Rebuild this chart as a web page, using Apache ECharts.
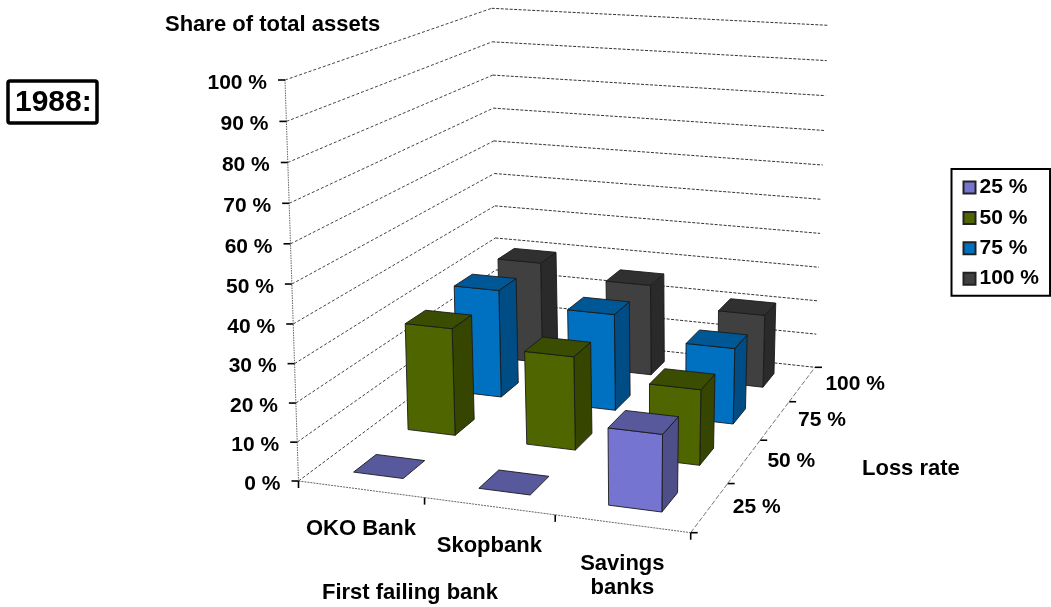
<!DOCTYPE html>
<html><head><meta charset="utf-8">
<style>html,body{margin:0;padding:0;background:#fff}#c{width:1051px;height:607px}</style>
<script src="https://cdn.jsdelivr.net/npm/echarts@6/dist/echarts.min.js"></script>
</head><body><div id="c"></div>
<script>
// ---- data ----
const banks = ['OKO Bank', 'Skopbank', 'Savings\nbanks'];
const rates = ['25 %', '50 %', '75 %', '100 %'];
const valueTicks = [0, 10, 20, 30, 40, 50, 60, 70, 80, 90, 100];
const share25 = [0, 0, 19.5];
const share50 = [29, 25, 20];
const share75 = [30.5, 27, 21];
const share100 = [30, 26.5, 21];

// ---- styles ----
const FAMILY = '"Liberation Sans", Arial, sans-serif';
const FONT = 'bold 22px ' + FAMILY;
const FONT_PCT = 'bold 21px ' + FAMILY;
const palette = [
  { front: '#7575d1', top: '#58589c', side: '#4e4e88' },
  { front: '#4f6600', top: '#3b4d00', side: '#364600' },
  { front: '#0070c0', top: '#005796', side: '#004c84' },
  { front: '#404040', top: '#303030', side: '#2a2a2a' }
];
// perspective frame: floor and 100 % plane corners (front-left, front-right, back-right, back-left)
const floorQuad = [[298.5, 481], [690.7, 532.7], [815, 367.3], [497, 333]];
const roofQuad = [[285, 80], [699.6, 115], [828, 25.3], [491.7, 8.3]];
const BAR_U = 0.40, BAR_V = 0.40;

function homography(q) {
  const [[x0, y0], [x1, y1], [x2, y2], [x3, y3]] = q;
  const dx1 = x1 - x2, dx2 = x3 - x2, sx = x0 - x1 + x2 - x3;
  const dy1 = y1 - y2, dy2 = y3 - y2, sy = y0 - y1 + y2 - y3;
  const den = dx1 * dy2 - dx2 * dy1;
  const g = (sx * dy2 - dx2 * sy) / den, h = (dx1 * sy - sx * dy1) / den;
  const a = x1 - x0 + g * x1, b = x3 - x0 + h * x3, d = y1 - y0 + g * y1, e = y3 - y0 + h * y3;
  return (u, v) => {
    const w = g * u + h * v + 1;
    return [(a * u + b * v + x0) / w, (d * u + e * v + y0) / w];
  };
}
const floorH = homography(floorQuad), roofH = homography(roofQuad);
// u: across banks 0..1, v: across rates 0..1, t: height 0..1
function project(u, v, t) {
  const k = 1.036, s = t / (t + k * (1 - t));
  const p = floorH(u, v), q = roofH(u, v);
  return [p[0] + (q[0] - p[0]) * s, p[1] + (q[1] - p[1]) * s];
}
const rateFrac = r => echarts.number.linearMap(r, [0, rates.length], [0, 1]);

function gridFrac(params, api, bandPos, value) {
  const g = params.coordSys, c = api.coord([bandPos, value]);
  return { u: (c[0] - g.x) / g.width, t: 1 - (c[1] - g.y) / g.height, bw: api.size([1, 0])[0] / g.width };
}
const poly = (pts, fill) => ({
  type: 'polygon', shape: { points: pts },
  style: { fill, stroke: '#1a1a1a', lineWidth: 0.9, lineJoin: 'round' }, silent: true
});
const seg = (a, b, dash, color, w) => ({
  type: 'line', shape: { x1: a[0], y1: a[1], x2: b[0], y2: b[1] },
  style: { stroke: color || '#000', lineWidth: w || 1, lineDash: dash || null }, silent: true
});
const txt = (x, y, text, align, vAlign, font) => ({
  type: 'text', silent: true,
  style: { x, y, text, font: font || FONT, fill: '#000', textAlign: align, textVerticalAlign: vAlign, lineHeight: 24 }
});

function renderBar(colors) {
  return (params, api) => {
    const bank = api.value(0), rate = api.value(1), val = api.value(2);
    const f = gridFrac(params, api, bank, val);
    const u0 = f.u - f.bw * BAR_U / 2, u1 = f.u + f.bw * BAR_U / 2;
    const vc = rateFrac(rate + 0.5), hv = rateFrac(BAR_V) / 2;
    const v0 = vc - hv, v1 = vc + hv, t = f.t;
    const P = (u, v, h) => project(u, v, h);
    const children = [];
    if (val > 0) {
      children.push(poly([P(u1, v0, 0), P(u1, v1, 0), P(u1, v1, t), P(u1, v0, t)], colors.side));
      children.push(poly([P(u0, v0, 0), P(u1, v0, 0), P(u1, v0, t), P(u0, v0, t)], colors.front));
    }
    children.push(poly([P(u0, v0, t), P(u1, v0, t), P(u1, v1, t), P(u0, v1, t)], colors.top));
    return { type: 'group', children };
  };
}
function renderValueTick(params, api) {
  const z = api.value(1);
  const t = gridFrac(params, api, 0, z).t;
  const a = project(0, 0, t), b = project(0, 1, t), c = project(1, 1, t);
  const children = [
    seg(a, b, [3, 2], '#444', 1),
    seg(b, c, [3, 1.5], '#333', 1),
    seg([a[0] - 7, a[1]], a, null, '#000', 1.6),
    txt(a[0] - 18, a[1] + 3, z + ' %', 'right', 'middle', FONT_PCT)
  ];
  if (z < 100) children.push(seg(a, project(0, 0, gridFrac(params, api, 0, z + 10).t), [1.5, 1], '#555', 0.9));
  return { type: 'group', children };
}
function renderBankAxis(params, api) {
  const i = api.value(0);
  const f = gridFrac(params, api, i, 0);
  const c = project(f.u, 0, 0);
  const uR = f.u + f.bw / 2, uL = f.u - f.bw / 2;
  const pR = project(uR, 0, 0), pL = project(uL, 0, 0);
  const children = [
    seg(pL, pR, [2, 1], '#555', 0.9),
    seg(pR, [pR[0], pR[1] + 7], null, '#000', 1.6),
    txt(c[0], c[1] + 28, banks[i], 'center', 'top')
  ];
  if (i === 0) children.push(seg(pL, [pL[0], pL[1] + 7], null, '#000', 1.6));
  return { type: 'group', children };
}
function renderRateAxis(params, api) {
  const r = api.value(1);
  const u = gridFrac(params, api, banks.length - 1, 0).u + gridFrac(params, api, 0, 0).bw / 2;
  const a = project(u, rateFrac(r), 0), b = project(u, rateFrac(r + 1), 0), m = project(u, rateFrac(r + 0.5), 0);
  const children = [
    seg(a, b, [5, 2], '#666', 0.9),
    seg(b, [b[0] + 7, b[1]], null, '#000', 1.6),
    txt(m[0] + 23, m[1], rates[r], 'left', 'middle', FONT_PCT)
  ];
  if (r === 0) children.push(seg(a, [a[0] + 7, a[1]], null, '#000', 1.6));
  return { type: 'group', children };
}

const shares = [share25, share50, share75, share100];
const barSeries = rates.map((name, r) => ({
  type: 'custom', name, coordinateSystem: 'cartesian2d', clip: false, silent: true,
  encode: { x: 0, y: 2 },
  itemStyle: { color: palette[r].front },
  renderItem: renderBar(palette[r]),
  data: shares[r].map((v, b) => [b, r, v])
})).reverse();

const labelStyle = { fontFamily: FAMILY, fontWeight: 'bold', fontSize: 22, color: '#000' };
const chart = echarts.init(document.getElementById('c'), null, { renderer: 'canvas' });
chart.setOption({
  animation: false,
  backgroundColor: '#fff',
  grid: { left: 0, top: 0, width: 600, height: 600, containLabel: false },
  xAxis: { type: 'category', data: banks, show: false },
  yAxis: { type: 'value', min: 0, max: 100, interval: 10, show: false },
  title: [
    { text: '1988:', left: 8, top: 81, padding: [7, 6, 5, 7], borderColor: '#000', borderWidth: 3.5, borderRadius: 2,
      textStyle: { fontFamily: FAMILY, fontWeight: 'bold', fontSize: 30, color: '#000' } },
    { text: 'Share of total assets', left: 165, top: 14, padding: 0, textStyle: labelStyle },
    { text: 'First failing bank', left: 322, top: 582, padding: 0, textStyle: labelStyle },
    { text: 'Loss rate', left: 862, top: 458, padding: 0, textStyle: labelStyle }
  ],
  legend: {
    data: rates.map((name, r) => ({ name, icon: 'rect', itemStyle: { color: palette[r].front, borderColor: '#222', borderWidth: 2 } })),
    orient: 'vertical', left: 951.5, top: 169, selectedMode: false,
    padding: [8, 11, 6.5, 11], itemWidth: 12, itemHeight: 12, itemGap: 9.4,
    borderColor: '#000', borderWidth: 2, backgroundColor: '#fff',
    textStyle: { fontFamily: FAMILY, fontWeight: 'bold', fontSize: 21, color: '#000', lineHeight: 20, padding: [0, 0, 0, -1] }
  },
  series: [
    { type: 'custom', name: 'valueAxis', coordinateSystem: 'cartesian2d', clip: false, silent: true, encode: { x: 0, y: 1 },
      renderItem: renderValueTick, data: valueTicks.map(v => [0, v]) },
    { type: 'custom', name: 'bankAxis', coordinateSystem: 'cartesian2d', clip: false, silent: true, encode: { x: 0 },
      renderItem: renderBankAxis, data: banks.map((b, i) => [i, 0]) },
    { type: 'custom', name: 'rateAxis', coordinateSystem: 'cartesian2d', clip: false, silent: true, encode: { x: 0 },
      renderItem: renderRateAxis, data: rates.map((b, i) => [0, i]) }
  ].concat(barSeries)
});
</script></body></html>
